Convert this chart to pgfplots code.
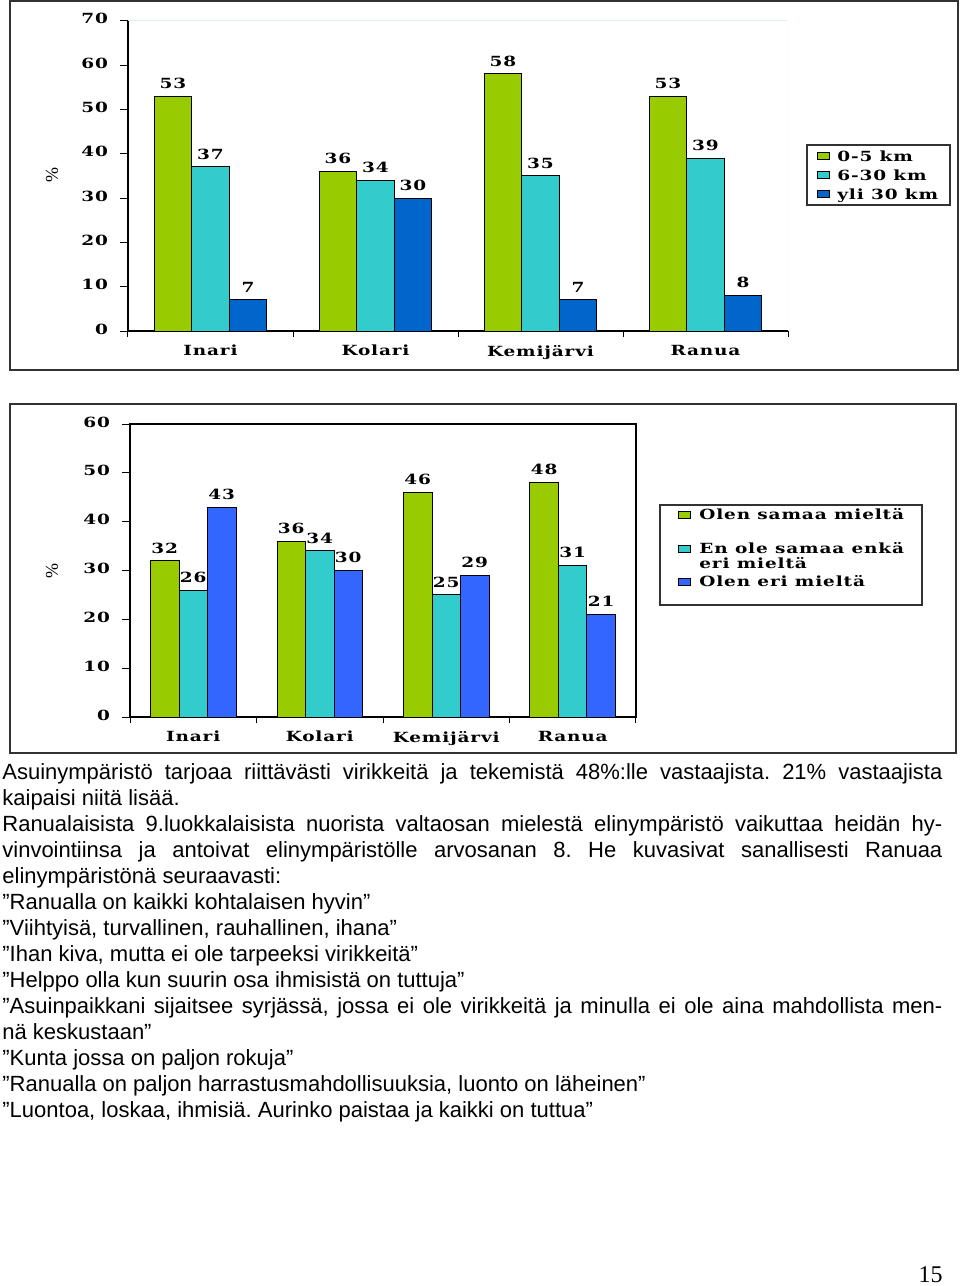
\documentclass[border=0pt]{standalone}
\usepackage{fontspec}
\setmainfont{Liberation Sans}
\newfontfamily\cf[FakeStretch=1.32,LetterSpace=6]{DejaVu Serif}
\newfontfamily\pnfont{Liberation Serif}
\usepackage{pgfplots}
\pgfplotsset{compat=1.18}
\newlength\px \setlength\px{0.5pt}
\definecolor{cgreen}{RGB}{153,204,0}
\definecolor{ccyan}{RGB}{51,204,204}
\definecolor{cblue}{RGB}{0,102,204}
\definecolor{cblue2}{RGB}{51,102,255}
\definecolor{lightframe}{RGB}{215,245,245}
\definecolor{boxgray}{RGB}{50,50,50}
\newcommand\chartfont{\cf\bfseries\fontsize{7}{7.5}\selectfont}
\pgfplotsset{
  barchart/.style={
    scale only axis,
    ybar=0pt,
    ymin=0,
    xmin=-0.5, xmax=3.5,
    xtick={0,1,2,3},
    xticklabels={Inari,Kolari,Kemijärvi,Ranua},
    typeset ticklabels with strut,
    major x tick style={draw=none},
    minor xtick={-0.5,0.5,1.5,2.5,3.5},
    minor tick length=6\px,
    major tick length=8\px,
    tick align=outside,
    tick style={black, line width=1\px},
    axis line style={black, line width=1.2\px},
    ticklabel style={font=\chartfont},
    yticklabel style={xshift=-5\px},
    xticklabel style={yshift=1\px},
    /pgf/number format/assume math mode=true,
    nodes near coords,
    nodes near coords style={font=\chartfont, anchor=south, inner sep=0pt, yshift=7\px},
    ylabel={\pnfont\fontsize{9}{10}\selectfont\%},
  },
}
\tikzset{
  legsq/.style={draw=black, line width=0.8\px},
  legtx/.style={anchor=base west, inner sep=0pt, font=\chartfont},
}
\begin{document}
\begin{tikzpicture}
\useasboundingbox (0,0) rectangle (960\px,-1286\px);
\fill[white] (0,0) rectangle (960\px,-1286\px);
% outer boxes
\draw[boxgray, line width=2\px] (10\px,-1\px) rectangle (958\px,-370\px);
\draw[boxgray, line width=2\px] (10\px,-404\px) rectangle (956\px,-753\px);

% Chart 1
\begin{axis}[barchart,
  at={(128\px,-331\px)}, anchor=south west,
  width=660\px, height=310.3\px,
  ymax=70, ytick={0,10,...,70},
  bar width=37.5\px,
  axis lines*=left,
  every axis y label/.style={at={(axis description cs:-0.115,0.503)}, rotate=90, anchor=center},
]
\addplot[fill=cgreen, draw=black, line width=1\px] coordinates {(0,53) (1,36) (2,58) (3,53)};
\addplot[fill=ccyan, draw=black, line width=1\px] coordinates {(0,37) (1,34) (2,35) (3,39)};
\addplot[fill=cblue, draw=black, line width=1\px] coordinates {(0,7) (1,30) (2,7) (3,8)};
\draw[lightframe, line width=1\px] (rel axis cs:0,1) -- (rel axis cs:1,1) -- (rel axis cs:1,0);
\end{axis}
% legend 1
\draw[boxgray, line width=1.4\px] (807\px,-145\px) rectangle (950\px,-205\px);
\draw[legsq, fill=cgreen] (817\px,-152.5\px) rectangle (829\px,-159.5\px);
\draw[legsq, fill=ccyan]  (817\px,-171.5\px) rectangle (829\px,-178.5\px);
\draw[legsq, fill=cblue]  (817\px,-190.5\px) rectangle (829\px,-197.5\px);
\node[legtx] at (837\px,-161\px) {0-5 km};
\node[legtx] at (837\px,-180\px) {6-30 km};
\node[legtx] at (837\px,-199\px) {yli 30 km};

% Chart 2
\begin{axis}[barchart,
  at={(130\px,-717\px)}, anchor=south west,
  width=506\px, height=293\px,
  ymax=60, ytick={0,10,...,60},
  bar width=28.5\px,
  tick pos=left,
  every axis y label/.style={at={(axis description cs:-0.154,0.50)}, rotate=90, anchor=center},
]
\addplot[fill=cgreen, draw=black, line width=1\px] coordinates {(0,32) (1,36) (2,46) (3,48)};
\addplot[fill=ccyan, draw=black, line width=1\px] coordinates {(0,26) (1,34) (2,25) (3,31)};
\addplot[fill=cblue2, draw=black, line width=1\px] coordinates {(0,43) (1,30) (2,29) (3,21)};
\end{axis}
% legend 2
\draw[boxgray, line width=1.4\px] (660\px,-505\px) rectangle (922\px,-605\px);
\draw[legsq, fill=cgreen] (678\px,-511\px) rectangle (690\px,-518\px);
\draw[legsq, fill=ccyan]  (678\px,-545\px) rectangle (690\px,-552\px);
\draw[legsq, fill=cblue2] (678\px,-578\px) rectangle (690\px,-585\px);
\node[legtx] at (699\px,-519.5\px) {Olen samaa mieltä};
\node[legtx] at (699\px,-553\px) {En ole samaa enkä};
\node[legtx] at (699\px,-568.5\px) {eri mieltä};
\node[legtx] at (699\px,-586.5\px) {Olen eri mieltä};

% body text
\node[anchor=north west, inner sep=0pt, text width=940\px, align=justify,
      font=\fontsize{11}{13}\selectfont] at (2\px,-760.8\px) {%
\frenchspacing\hyphenpenalty=10000\exhyphenpenalty=10000\tolerance=9999\parindent=0pt\parskip=0pt
\strut Asuinympäristö tarjoaa riittävästi virikkeitä ja tekemistä 48\%:lle vastaajista. 21\% vastaajista\linebreak
kaipaisi niitä lisää.\par
Ranualaisista 9.luokkalaisista nuorista valtaosan mielestä elinympäristö vaikuttaa heidän hy-\linebreak
vinvointiinsa ja antoivat elinympäristölle arvosanan 8. He kuvasivat sanallisesti Ranuaa\linebreak
elinympäristönä seuraavasti:\par
”Ranualla on kaikki kohtalaisen hyvin”\par
”Viihtyisä, turvallinen, rauhallinen, ihana”\par
”Ihan kiva, mutta ei ole tarpeeksi virikkeitä”\par
”Helppo olla kun suurin osa ihmisistä on tuttuja”\par
”Asuinpaikkani sijaitsee syrjässä, jossa ei ole virikkeitä ja minulla ei ole aina mahdollista men-\linebreak
nä keskustaan”\par
”Kunta jossa on paljon rokuja”\par
”Ranualla on paljon harrastusmahdollisuuksia, luonto on läheinen”\par
”Luontoa, loskaa, ihmisiä. Aurinko paistaa ja kaikki on tuttua”\par
};
\node[anchor=base east, inner sep=0pt, font=\pnfont\fontsize{12}{14}\selectfont] at (943\px,-1282\px) {15};
\end{tikzpicture}
\end{document}
